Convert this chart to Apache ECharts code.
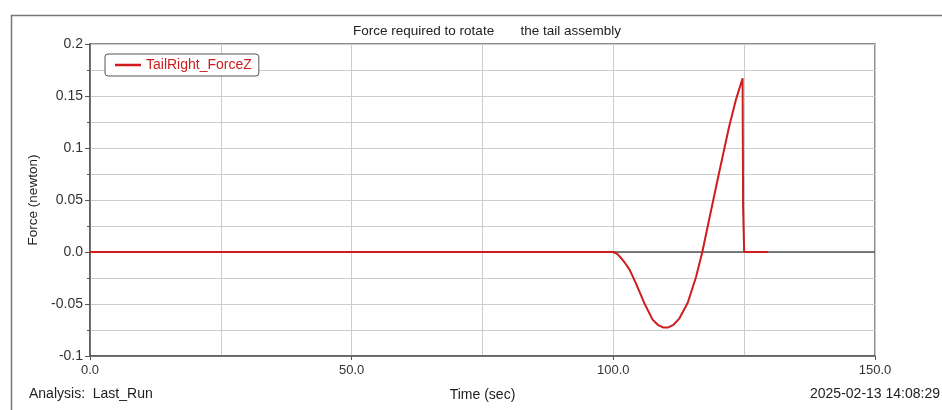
<!DOCTYPE html>
<html>
<head>
<meta charset="utf-8">
<script src="https://cdn.jsdelivr.net/npm/echarts@6/dist/echarts.min.js"></script>
<style>
html,body{margin:0;padding:0;background:#fff;}
#c{width:942px;height:410px;}
</style>
</head>
<body>
<div id="c"></div>
<script>
const seriesName = 'TailRight_ForceZ';
const timeSec = [0, 100, 100.2, 100.8, 101.5, 102.3, 103.1, 104.3, 105.9, 107.5, 108.5, 109.5, 110.5, 111.5, 112.6, 114.2, 115.8, 117.0, 118.3, 120.2, 122.1, 123.4, 124.7, 124.8, 125.0, 125.0, 129.6];
const forceN  = [0, 0, 0, -0.002, -0.006, -0.011, -0.017, -0.030, -0.049, -0.065, -0.070, -0.0725, -0.0725, -0.070, -0.064, -0.049, -0.024, 0, 0.031, 0.076, 0.120, 0.146, 0.167, 0.042, 0.042, 0, 0];
const zeroLineX = [0, 150];
const zeroLineY = [0, 0];
const yTickLabels = {'0.2':'0.2','0.15':'0.15','0.1':'0.1','0.05':'0.05','0':'0.0','-0.05':'-0.05','-0.1':'-0.1'};

const font = 'Liberation Sans, Arial, sans-serif';
const chart = echarts.init(document.getElementById('c'));
chart.setOption({
  backgroundColor: '#fff',
  animation: false,
  title: {
    text: 'Force required to rotate       the tail assembly',
    left: 482, top: 19, textAlign: 'center',
    textStyle: {fontFamily: font, fontSize: 13.5, fontWeight: 'normal', color: '#222'}
  },
  legend: {
    data: [seriesName],
    left: 105, top: 54,
    orient: 'vertical',
    icon: 'rect',
    backgroundColor: '#fff',
    borderColor: '#555', borderWidth: 1, borderRadius: 3,
    padding: [4, 7, 4, 10],
    itemWidth: 26, itemHeight: 2.5, itemGap: 4,
    textStyle: {fontFamily: font, fontSize: 14, color: '#d01c1c', padding: [1, 0, 0, 0]}
  },
  grid: {
    left: 90, top: 44, right: 67, bottom: 54,
    show: true, borderColor: '#666', borderWidth: 1.5, backgroundColor: 'transparent'
  },
  graphic: [
    {type: 'rect', left: 9, top: 13, silent: true, z: -10,
     shape: {width: 1000, height: 500}, style: {fill: 'none', stroke: '#777', lineWidth: 1.5}},
    {type: 'text', left: 29, top: 387, style: {text: 'Analysis:  Last_Run', font: '14px ' + font, fill: '#222'}},
    {type: 'text', right: 2, top: 387, style: {text: '2025-02-13 14:08:29', font: '14px ' + font, fill: '#222'}}
  ],
  xAxis: {
    type: 'value', min: 0, max: 150, interval: 50,
    name: 'Time (sec)', nameLocation: 'middle', nameGap: 32,
    nameTextStyle: {fontFamily: font, fontSize: 14, color: '#222'},
    axisLine: {show: true, onZero: false, lineStyle: {color: '#555', width: 1.5}},
    axisTick: {show: true, length: 4, lineStyle: {color: '#555'}},
    minorTick: {show: true, splitNumber: 2, length: 0},
    axisLabel: {fontFamily: font, fontSize: 13, color: '#333', margin: 8,
      formatter: v => v.toFixed(1)},
    splitLine: {show: true, lineStyle: {color: '#cccccc', width: 1}},
    minorSplitLine: {show: true, lineStyle: {color: '#cccccc', width: 1}}
  },
  yAxis: {
    type: 'value', min: -0.1, max: 0.2, interval: 0.05,
    name: 'Force (newton)', nameLocation: 'middle', nameGap: 50,
    nameTextStyle: {fontFamily: font, fontSize: 13.5, color: '#222'},
    axisLine: {show: true, onZero: false, lineStyle: {color: '#555', width: 1.5}},
    axisTick: {show: true, length: 5, lineStyle: {color: '#555'}},
    minorTick: {show: true, splitNumber: 2, length: 3, lineStyle: {color: '#555'}},
    axisLabel: {fontFamily: font, fontSize: 14, color: '#333', margin: 7,
      formatter: v => { const k = String(Math.round(v * 1000) / 1000); return yTickLabels[k] !== undefined ? yTickLabels[k] : k; }},
    splitLine: {show: true, lineStyle: {color: '#cccccc', width: 1}},
    minorSplitLine: {show: true, lineStyle: {color: '#cccccc', width: 1}}
  },
  series: [
    {
      name: 'zero', type: 'line', z: 1, silent: true, symbol: 'none',
      data: zeroLineX.map((x, i) => [x, zeroLineY[i]]),
      lineStyle: {color: '#555', width: 1.5}
    },
    {
      name: seriesName, type: 'line', z: 3, symbol: 'none',
      data: timeSec.map((t, i) => [t, forceN[i]]),
      lineStyle: {color: '#d01c1c', width: 2},
      itemStyle: {color: '#d01c1c'}
    }
  ]
});
</script>
</body>
</html>
